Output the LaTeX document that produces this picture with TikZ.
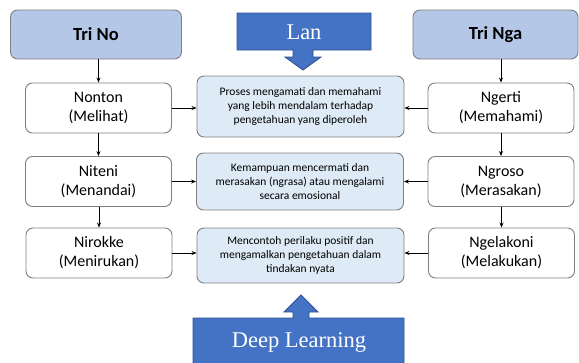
\documentclass[tikz,border=0pt]{standalone}
\usepackage{fontspec}
\setmainfont{Carlito}
\newfontfamily\timesf{Liberation Serif}
\definecolor{titlefill}{HTML}{B4C7E7}
\definecolor{midfill}{HTML}{DEEBF7}
\definecolor{boxline}{HTML}{7F7F7F}
\definecolor{arrfill}{HTML}{4472C4}
\definecolor{arrline}{HTML}{2F528F}
\usetikzlibrary{arrows.meta}
\begin{document}
\begin{tikzpicture}[x=1pt,y=-1pt,
  titlebox/.style={draw=boxline,line width=0.9pt,fill=titlefill,rounded corners=7pt,inner sep=0pt,minimum width=#1,minimum height=49pt,font=\fontsize{18.5}{20}\selectfont\bfseries},
  stagebox/.style={draw=boxline,line width=0.9pt,fill=white,rounded corners=7pt,inner sep=0pt,minimum width=146pt,minimum height=50pt,align=center,font=\fontsize{16}{19}\selectfont},
  descbox/.style={draw=boxline,line width=0.9pt,fill=midfill,rounded corners=7pt,inner sep=0pt,minimum width=207pt,minimum height=#1,align=center,font=\fontsize{11.5}{14.2}\selectfont},
  conn/.style={-{Stealth[length=5pt,width=4pt]},line width=0.8pt,black},
  bigarrow/.style={draw=arrline,line width=0.9pt,fill=arrfill},
  bigtext/.style={text=white,font=\timesf\fontsize{22.5}{24}\selectfont,inner sep=0pt}
]
\useasboundingbox (0,0) rectangle (579,362);
\clip (0,0) rectangle (579,362);
% titles
\node[titlebox=171pt] (trino) at (96,34.5) {Tri No};
\node[titlebox=165pt] (tringa) at (495.5,34.5) {Tri Nga};
% left column
\node[stagebox] (nonton) at (98.5,108) {Nonton\\(Melihat)};
\node[stagebox] (niteni) at (98.5,181.5) {Niteni\\(Menandai)};
\node[stagebox] (nirokke) at (99,253) {Nirokke\\(Menirukan)};
% right column
\node[stagebox] (ngerti) at (501,108) {Ngerti\\(Memahami)};
\node[stagebox] (ngroso) at (501,181.5) {Ngroso\\(Merasakan)};
\node[stagebox] (ngelakoni) at (501.5,253) {Ngelakoni\\(Melakukan)};
% middle
\node[descbox=61pt] (proses) at (300.5,106.5) {Proses mengamati dan memahami\\yang lebih mendalam terhadap\\pengetahuan yang diperoleh};
\node[descbox=57pt] (kemampuan) at (300,181.5) {Kemampuan mencermati dan\\merasakan (ngrasa) atau mengalami\\secara emosional};
\node[descbox=55pt] (mencontoh) at (300.5,255.5) {Mencontoh perilaku positif dan\\mengamalkan pengetahuan dalam\\tindakan nyata};
% connectors
\draw[conn] (nonton.north |- trino.south) -- (nonton.north);
\draw[conn] (nonton) -- (niteni);
\draw[conn] (niteni.south -| nirokke.north) -- (nirokke.north);
\draw[conn] (ngerti.north |- tringa.south) -- (ngerti.north);
\draw[conn] (ngerti) -- (ngroso);
\draw[conn] (ngroso.south -| ngelakoni.north) -- (ngelakoni.north);
\draw[conn] (nonton.east) -- (nonton.east -| proses.west);
\draw[conn] (niteni.east) -- (niteni.east -| kemampuan.west);
\draw[conn] (nirokke.east) -- (nirokke.east -| mencontoh.west);
\draw[conn] (ngerti.west) -- (ngerti.west -| proses.east);
\draw[conn] (ngroso.west) -- (ngroso.west -| kemampuan.east);
\draw[conn] (ngelakoni.west) -- (ngelakoni.west -| mencontoh.east);
% Lan arrow
\draw[bigarrow] (237,13) -- (371,13) -- (371,50) -- (313,50) -- (313,57) -- (321,57) -- (303,70) -- (285,57) -- (293,57) -- (293,50) -- (237,50) -- cycle;
\node[bigtext] (lan) at (304,32) {Lan};
% Deep Learning arrow
\draw[bigarrow] (193,318) -- (293,318) -- (293,312) -- (284,312) -- (301,295) -- (318,312) -- (309,312) -- (309,318) -- (404,318) -- (404,372) -- (193,372) -- cycle;
\node[bigtext] (deep) at (299,342) {Deep Learning};
\end{tikzpicture}
\end{document}
